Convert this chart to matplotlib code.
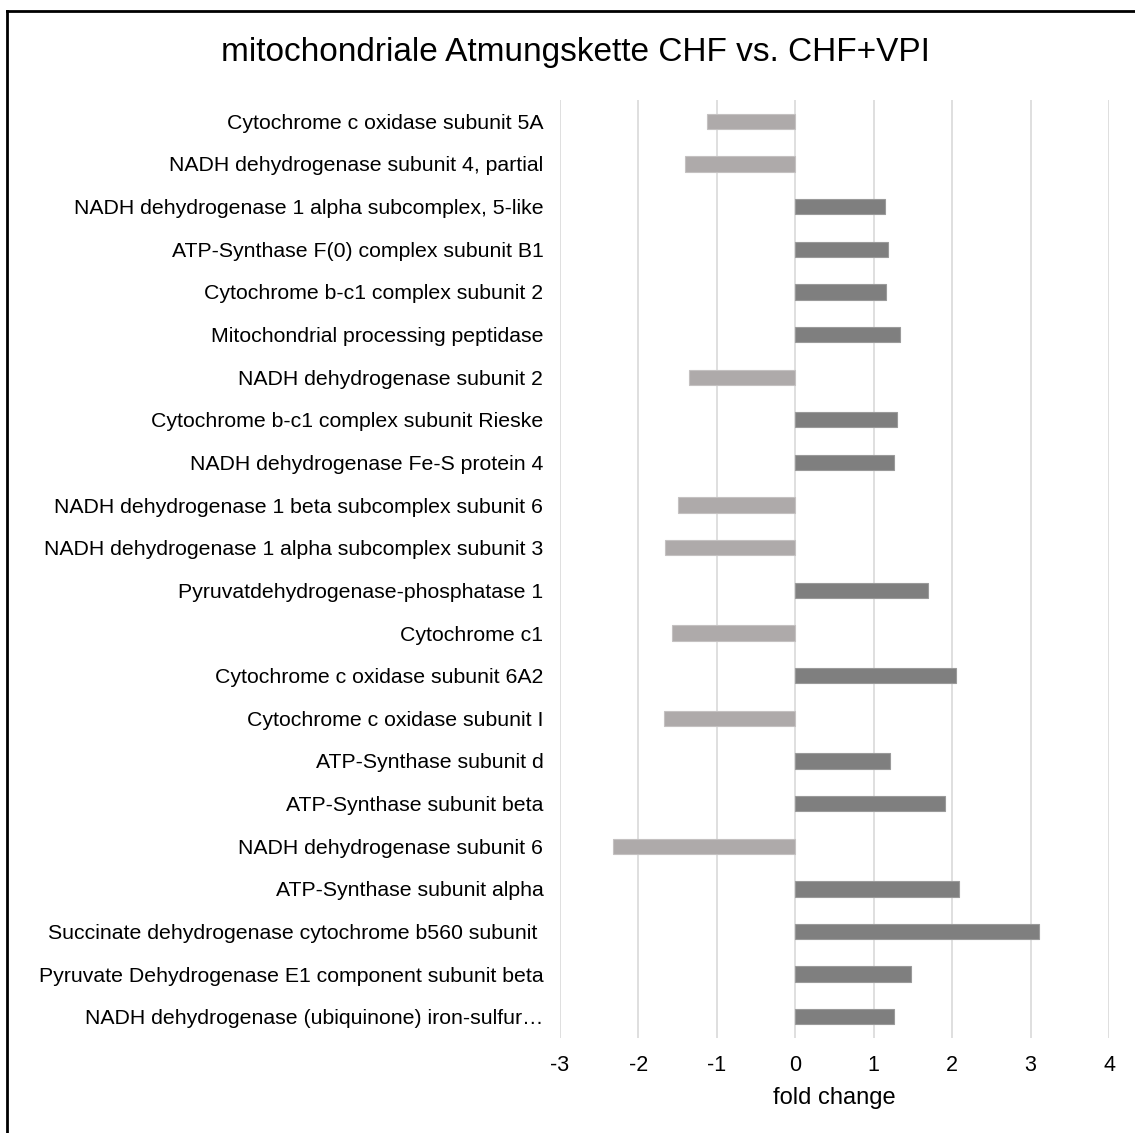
import numpy as np
import matplotlib
matplotlib.use("Agg")
import matplotlib.pyplot as plt
from matplotlib.lines import Line2D

plt.rcParams['font.family'] = ['Liberation Sans', 'DejaVu Sans']

# proteins, top to bottom as shown
proteins = [
    "Cytochrome c oxidase subunit 5A",
    "NADH dehydrogenase subunit 4, partial",
    "NADH dehydrogenase 1 alpha subcomplex, 5-like",
    "ATP-Synthase F(0) complex subunit B1",
    "Cytochrome b-c1 complex subunit 2",
    "Mitochondrial processing peptidase",
    "NADH dehydrogenase subunit 2",
    "Cytochrome b-c1 complex subunit Rieske",
    "NADH dehydrogenase Fe-S protein 4",
    "NADH dehydrogenase 1 beta subcomplex subunit 6",
    "NADH dehydrogenase 1 alpha subcomplex subunit 3",
    "Pyruvatdehydrogenase-phosphatase 1",
    "Cytochrome c1",
    "Cytochrome c oxidase subunit 6A2",
    "Cytochrome c oxidase subunit I",
    "ATP-Synthase subunit d",
    "ATP-Synthase subunit beta",
    "NADH dehydrogenase subunit 6",
    "ATP-Synthase subunit alpha",
    "Succinate dehydrogenase cytochrome b560 subunit ",
    "Pyruvate Dehydrogenase E1 component subunit beta",
    "NADH dehydrogenase (ubiquinone) iron-sulfur\u2026",
]
fold_change = [
    -1.12, -1.41, 1.15, 1.18, 1.16, 1.34, -1.36, 1.30, 1.26, -1.50, -1.66,
    1.69, -1.57, 2.05, -1.68, 1.21, 1.91, -2.32, 2.09, 3.11, 1.48, 1.26,
]
x_ticks = [-3, -2, -1, 0, 1, 2, 3, 4]

col_neg = "#aeaaaa"
col_pos = "#7f7f7f"


def main():
    fig = plt.figure(figsize=(11.35, 11.33), dpi=100)
    ax = fig.add_axes([0.4934, 0.0838, 0.4837, 0.8279])

    y = np.arange(len(proteins))
    vals = np.array(fold_change)
    colors = [col_neg if v < 0 else col_pos for v in vals]
    edges = ["#c4c1c1" if v < 0 else "#9a9a9a" for v in vals]
    ax.barh(y, vals, height=0.36, color=colors, edgecolor=edges,
            linewidth=0.8, zorder=3)

    ax.set_ylim(len(proteins) - 0.5, -0.5)
    ax.set_xlim(-3, 4)
    ax.set_xticks(x_ticks)
    ax.set_xticklabels([str(t) for t in x_ticks], fontsize=15.5)
    ax.set_yticks(y)
    ax.set_yticklabels(proteins, fontsize=15.3)
    ax.tick_params(axis="y", length=0, pad=12)
    ax.tick_params(axis="x", length=0, pad=12)

    ax.grid(axis="x", color="#d9d9d9", linewidth=1.2, zorder=0)
    for s in ax.spines.values():
        s.set_visible(False)

    ax.set_xlabel("fold change", fontsize=17, labelpad=8)
    fig.text(0.507, 0.954, "mitochondriale Atmungskette CHF vs. CHF+VPI",
             fontsize=24, ha="center", va="center")

    # frame of the screenshot (only left and top visible)
    fig.add_artist(Line2D([7 / 1135, 7 / 1135], [0, 1 - 11 / 1133],
                          color="black", linewidth=2, transform=fig.transFigure))
    fig.add_artist(Line2D([7 / 1135, 1], [1 - 11 / 1133, 1 - 11 / 1133],
                          color="black", linewidth=2, transform=fig.transFigure))

    fig.savefig("out.png", dpi=100, facecolor="white")


if __name__ == "__main__":
    main()
